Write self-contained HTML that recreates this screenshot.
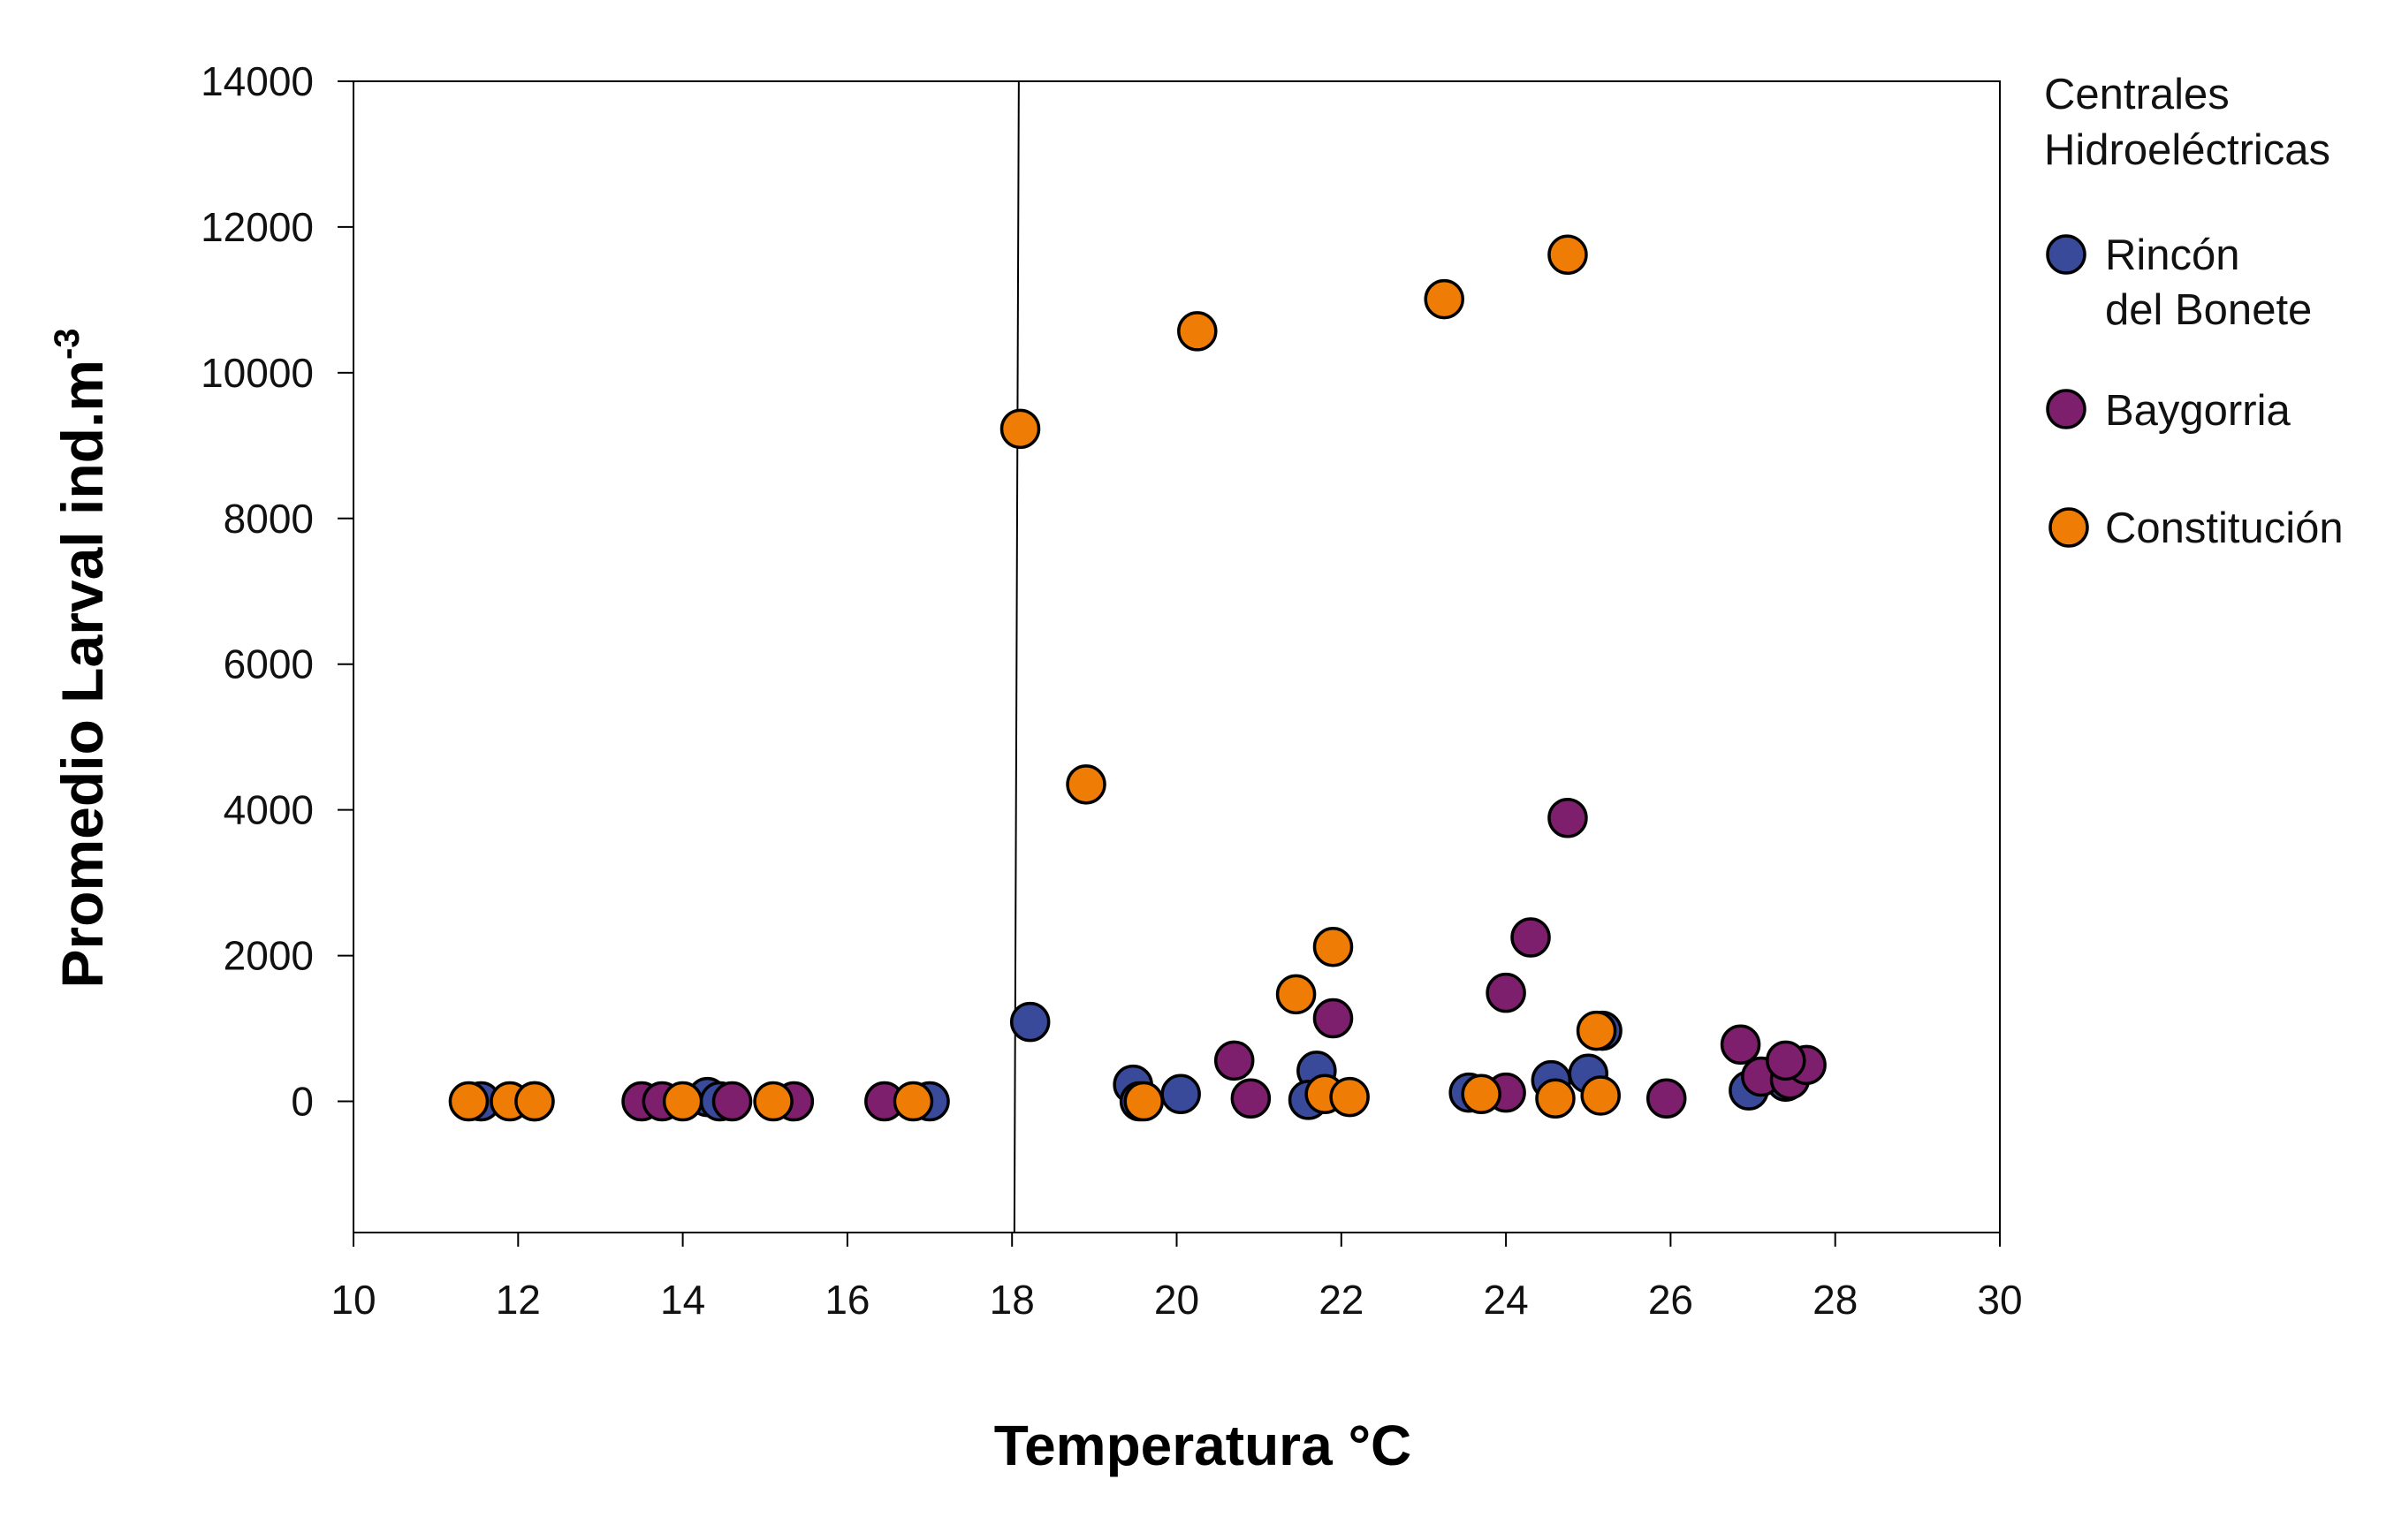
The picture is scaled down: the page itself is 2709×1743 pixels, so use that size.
<!DOCTYPE html>
<html><head><meta charset="utf-8"><style>
html,body{margin:0;padding:0;background:#fff;}
svg{display:block;font-family:"Liberation Sans","DejaVu Sans",sans-serif;}
</style></head><body>
<svg id="chart" width="2709" height="1743" viewBox="0 0 2709 1743" xmlns="http://www.w3.org/2000/svg">
<g id="axes"></g>
<g id="marks"></g>
<g id="legend">
  <text x="2313" y="123" font-size="49" fill="#111">Centrales</text>
  <text x="2313" y="186" font-size="49" fill="#111">Hidroeléctricas</text>
  <circle cx="2338" cy="288" r="21" fill="#3a4a9b" stroke="#000" stroke-width="3.5"/>
  <text x="2382" y="305" font-size="49" fill="#111">Rincón</text>
  <text x="2382" y="367" font-size="49" fill="#111">del Bonete</text>
  <circle cx="2338" cy="463" r="21" fill="#7e1f6e" stroke="#000" stroke-width="3.5"/>
  <text x="2382" y="481" font-size="49" fill="#111">Baygorria</text>
  <circle cx="2341" cy="597" r="21" fill="#ef7d05" stroke="#000" stroke-width="3.5"/>
  <text x="2382" y="614" font-size="49" fill="#111">Constitución</text>
</g>
<text x="1361" y="1658" font-size="64" font-weight="bold" text-anchor="middle" fill="#000">Temperatura °C</text>
<text transform="translate(116,745) rotate(-90)" font-size="66" font-weight="bold" text-anchor="middle" fill="#000">Promedio Larval ind.m<tspan font-size="40" dy="-27">-3</tspan></text>
</svg>
<script>
const xTicks = [10,12,14,16,18,20,22,24,26,28,30];
const yTicks = [0,2000,4000,6000,8000,10000,12000,14000];
const rinconX = [11.55,12.2,14.3,14.45,17.0,18.22,19.47,19.55,20.05,21.7,21.6,23.55,24.55,25.0,25.17,26.95,27.4];
const rinconY = [0,0,60,0,0,1090,230,0,100,420,20,120,290,380,970,150,270];
const baygorriaX = [13.5,13.75,14.6,15.35,16.45,20.7,20.9,21.9,24.0,24.0,24.3,24.75,25.95,26.85,27.1,27.45,27.65,27.4];
const baygorriaY = [0,0,0,0,0,560,40,1140,1490,120,2250,3890,40,780,340,300,500,560];
const constitucionX = [11.4,11.9,12.2,14.0,15.1,16.8,18.1,18.9,19.6,20.25,21.45,21.9,21.8,22.1,23.25,23.7,24.75,24.6,25.1,25.15];
const constitucionY = [0,0,0,0,0,0,9230,4350,0,10570,1470,2120,100,60,11010,100,11620,40,970,80];
const thresholdX = [18.05];

const L=400,R=2263,T=92,B=1395,xMin=10,xMax=30,yMin=-1800,yMax=14000;
const xs=v=>L+(v-xMin)/(xMax-xMin)*(R-L);
const ys=v=>B-(v-yMin)/(yMax-yMin)*(B-T);
const NS="http://www.w3.org/2000/svg";
function mk(tag,attrs,parent){const e=document.createElementNS(NS,tag);for(const k in attrs)e.setAttribute(k,attrs[k]);parent.appendChild(e);return e;}
const axes=document.getElementById('axes'),marks=document.getElementById('marks');

let fr=mk('rect',{x:L,y:T,width:R-L,height:B-T,fill:'none',stroke:'#000','stroke-width':2},axes);



xTicks.forEach(t=>{
  const x=xs(t);
  let l=mk('line',{x1:x,x2:x,y1:B,y2:B+16,stroke:'#000','stroke-width':2},axes);
  
  
  let tx=mk('text',{x:x,y:1487,'font-size':46,'text-anchor':'middle',fill:'#111'},axes);
  tx.textContent=t;
  
  
});
yTicks.forEach(t=>{
  const y=ys(t);
  let l=mk('line',{x1:L-18,x2:L,y1:y,y2:y,stroke:'#000','stroke-width':2},axes);
  
  
  let tx=mk('text',{x:355,y:y+16,'font-size':46,'text-anchor':'end',fill:'#111'},axes);
  tx.textContent=t;
  
  
});
thresholdX.forEach(v=>{
  let l=mk('line',{x1:xs(v)+3,x2:xs(v)-2,y1:T,y2:B,stroke:'#000','stroke-width':2},axes);
  
  
});

function series(xa,ya,color,name){
  xa.forEach((v,i)=>{
    let c=mk('circle',{cx:xs(v),cy:ys(ya[i]),r:21,fill:color,stroke:'#000','stroke-width':3.5},marks);
    
    
  });
}
series(rinconX,rinconY,'#3a4a9b','rincon');
series(baygorriaX,baygorriaY,'#7e1f6e','baygorria');
series(constitucionX,constitucionY,'#ef7d05','constitucion');
</script>
</body></html>
